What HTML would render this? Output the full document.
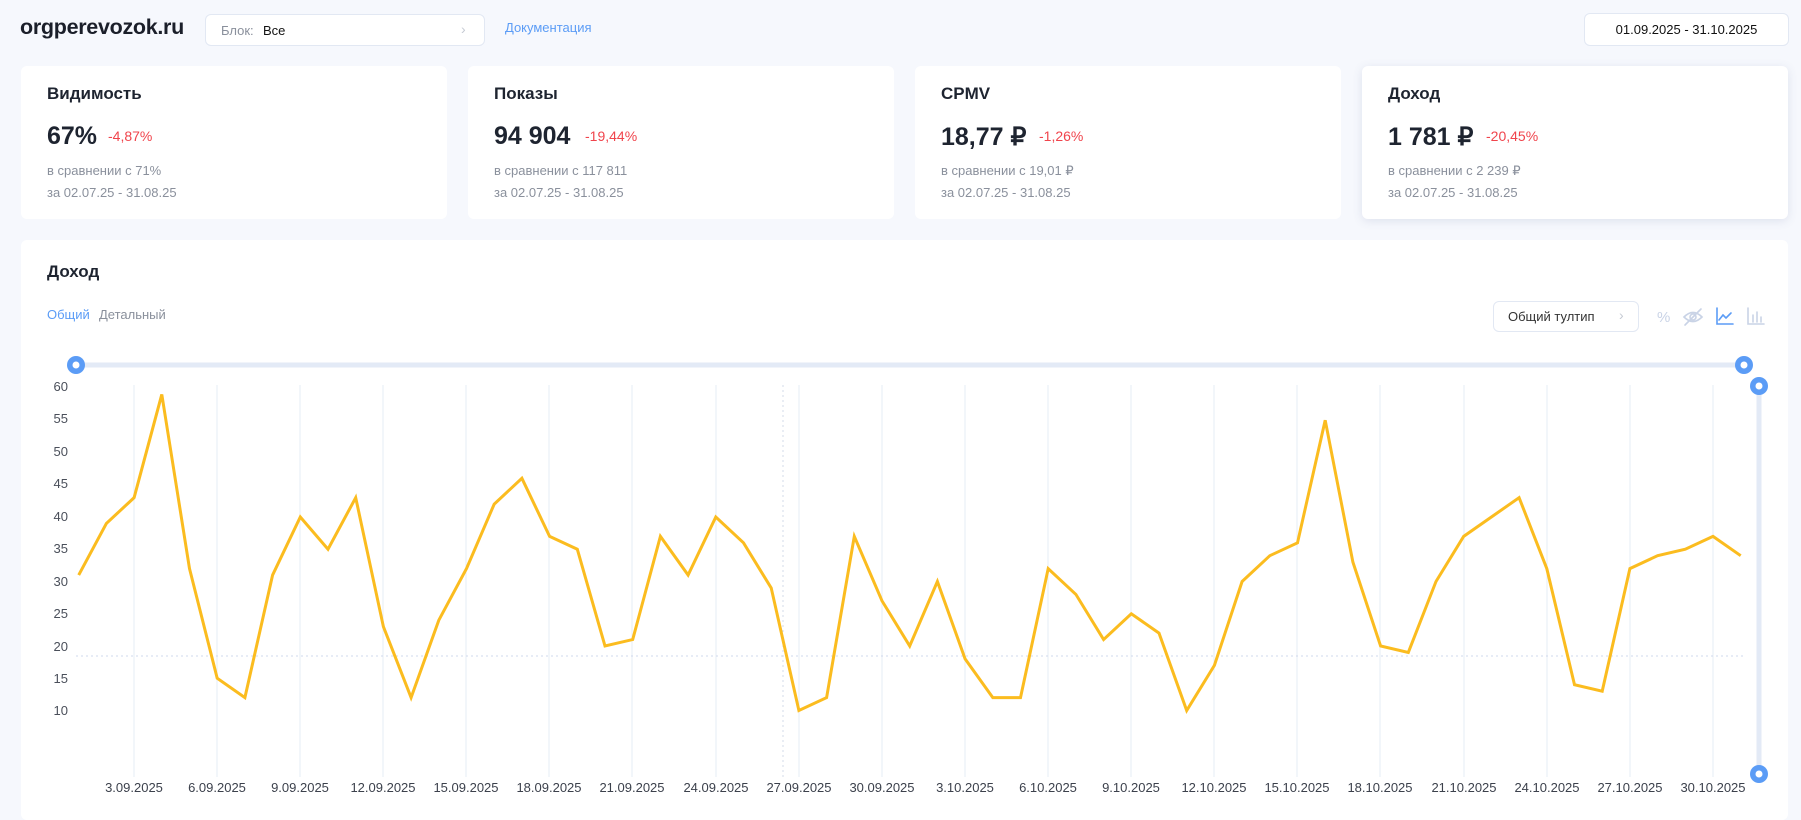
<!DOCTYPE html>
<html><head><meta charset="utf-8"><style>
*{margin:0;padding:0;box-sizing:border-box}
body{width:1801px;height:805px;background:#f6f8fd;font-family:"Liberation Sans",sans-serif;position:relative;overflow:hidden;color:#1e2430}
.abs{position:absolute}
.box{position:absolute;background:#fff;border:1px solid #e2e8f3;border-radius:6px}
.card{position:absolute;background:#fff;border-radius:6px;top:66px;width:426px;height:153px}
.ct{position:absolute;left:26px;top:18px;font-size:17px;font-weight:bold}
.cv{position:absolute;left:26px;top:56px;font-size:25px;font-weight:bold}
.cr{position:absolute;left:87px;top:62px;font-size:14px;color:#f0444c}
.cg{position:absolute;left:26px;font-size:13px;color:#8a909c}
</style></head><body>
<div class="abs" style="left:20px;top:15px;font-size:21.5px;font-weight:bold;color:#1b1f2a;letter-spacing:-0.3px">orgperevozok.ru</div>
<div class="box" style="left:205px;top:14px;width:280px;height:32px"><span class="abs" style="left:15px;top:8px;font-size:13px;color:#8a909c">Блок:</span><span class="abs" style="left:57px;top:8px;font-size:13px;color:#111">Все</span><span class="abs" style="left:255px;top:6px;font-size:14px;color:#c5cad3">›</span></div>
<div class="abs" style="left:505px;top:20px;font-size:13px;color:#5b9cf6">Документация</div>
<div class="box" style="left:1584px;top:13px;width:205px;height:33px"><span class="abs" style="left:0;width:203px;text-align:center;top:8px;font-size:13px;color:#111">01.09.2025 - 31.10.2025</span></div>

<div class="card" style="left:21px"><div class="ct">Видимость</div><div class="cv">67%</div><div class="cr">-4,87%</div><div class="cg" style="top:97px">в сравнении с 71%</div><div class="cg" style="top:119px">за 02.07.25 - 31.08.25</div></div>
<div class="card" style="left:468px"><div class="ct">Показы</div><div class="cv">94 904</div><div class="cr" style="left:117px">-19,44%</div><div class="cg" style="top:97px">в сравнении с 117 811</div><div class="cg" style="top:119px">за 02.07.25 - 31.08.25</div></div>
<div class="card" style="left:915px"><div class="ct">CPMV</div><div class="cv">18,77 ₽</div><div class="cr" style="left:124px">-1,26%</div><div class="cg" style="top:97px">в сравнении с 19,01 ₽</div><div class="cg" style="top:119px">за 02.07.25 - 31.08.25</div></div>
<div class="card" style="left:1362px;box-shadow:0 2px 10px rgba(60,80,130,.13)"><div class="ct">Доход</div><div class="cv">1 781 ₽</div><div class="cr" style="left:124px">-20,45%</div><div class="cg" style="top:97px">в сравнении с 2 239 ₽</div><div class="cg" style="top:119px">за 02.07.25 - 31.08.25</div></div>

<div class="abs" style="left:21px;top:240px;width:1767px;height:580px;background:#fff;border-radius:6px"></div>
<div class="abs" style="left:47px;top:262px;font-size:17px;font-weight:bold">Доход</div>
<div class="abs" style="left:47px;top:307px;font-size:13px;color:#5b9cf6">Общий</div>
<div class="abs" style="left:99px;top:307px;font-size:13px;color:#8a909c">Детальный</div>
<div class="box" style="left:1493px;top:301px;width:146px;height:31px"><span class="abs" style="left:14px;top:7px;font-size:13px;color:#333">Общий тултип</span><span class="abs" style="left:125px;top:5px;font-size:14px;color:#c5cad3">›</span></div>

<svg class="abs" style="left:0;top:0" width="1801" height="805">
<g fill="none" stroke-linecap="round" stroke-width="1.6">
<text x="1657" y="322" font-size="15" fill="#c9d3e6" font-family="Liberation Sans">%</text>
<path d="M1684 317q9-9 18 0q-9 9-18 0z M1685 325l16-16" stroke="#c9d3e6"/><circle cx="1693" cy="317" r="3" stroke="#c9d3e6"/>
<path d="M1717 308v16h16 M1719 320l4-5 3 3 5-5" stroke="#5b9cf6"/>
<path d="M1748 308v16h16 M1753 322v-7 M1757 322v-10 M1761 322v-5" stroke="#c9d3e6"/>
</g>
<line x1="76" y1="365" x2="1744" y2="365" stroke="#e3eaf6" stroke-width="5"/>
<line x1="1759" y1="386" x2="1759" y2="774" stroke="#e3eaf6" stroke-width="5"/>
<g stroke="#e6ecf6" stroke-width="1">
<line x1="134" y1="385" x2="134" y2="777"/><line x1="217" y1="385" x2="217" y2="777"/><line x1="300" y1="385" x2="300" y2="777"/><line x1="383" y1="385" x2="383" y2="777"/><line x1="466" y1="385" x2="466" y2="777"/><line x1="549" y1="385" x2="549" y2="777"/><line x1="632" y1="385" x2="632" y2="777"/><line x1="716" y1="385" x2="716" y2="777"/><line x1="799" y1="385" x2="799" y2="777"/><line x1="882" y1="385" x2="882" y2="777"/><line x1="965" y1="385" x2="965" y2="777"/><line x1="1048" y1="385" x2="1048" y2="777"/><line x1="1131" y1="385" x2="1131" y2="777"/><line x1="1214" y1="385" x2="1214" y2="777"/><line x1="1297" y1="385" x2="1297" y2="777"/><line x1="1380" y1="385" x2="1380" y2="777"/><line x1="1464" y1="385" x2="1464" y2="777"/><line x1="1547" y1="385" x2="1547" y2="777"/><line x1="1630" y1="385" x2="1630" y2="777"/><line x1="1713" y1="385" x2="1713" y2="777"/>
</g>
<line x1="783" y1="385" x2="783" y2="777" stroke="#d3dbea" stroke-dasharray="2,3"/>
<line x1="76" y1="656" x2="1744" y2="656" stroke="#cfd9ec" stroke-dasharray="2,3"/>
<g font-size="13" fill="#4a4f5a" font-family="Liberation Sans" text-anchor="end">
<text x="68" y="391">60</text><text x="68" y="423">55</text><text x="68" y="456">50</text><text x="68" y="488">45</text><text x="68" y="521">40</text><text x="68" y="553">35</text><text x="68" y="586">30</text><text x="68" y="618">25</text><text x="68" y="651">20</text><text x="68" y="683">15</text><text x="68" y="715">10</text>
</g>
<g font-size="13" fill="#3c414c" font-family="Liberation Sans" text-anchor="middle">
<text x="134" y="792">3.09.2025</text><text x="217" y="792">6.09.2025</text><text x="300" y="792">9.09.2025</text><text x="383" y="792">12.09.2025</text><text x="466" y="792">15.09.2025</text><text x="549" y="792">18.09.2025</text><text x="632" y="792">21.09.2025</text><text x="716" y="792">24.09.2025</text><text x="799" y="792">27.09.2025</text><text x="882" y="792">30.09.2025</text><text x="965" y="792">3.10.2025</text><text x="1048" y="792">6.10.2025</text><text x="1131" y="792">9.10.2025</text><text x="1214" y="792">12.10.2025</text><text x="1297" y="792">15.10.2025</text><text x="1380" y="792">18.10.2025</text><text x="1464" y="792">21.10.2025</text><text x="1547" y="792">24.10.2025</text><text x="1630" y="792">27.10.2025</text><text x="1713" y="792">30.10.2025</text>
</g>
<g transform="translate(51,775) scale(27.7,-6.45)">
<polyline fill="none" stroke="#fbbc1f" stroke-width="3" vector-effect="non-scaling-stroke" stroke-linejoin="miter" points="1,31 2,39 3,43 4,59 5,32 6,15 7,12 8,31 9,40 10,35 11,43 12,23 13,12 14,24 15,32 16,42 17,46 18,37 19,35 20,20 21,21 22,37 23,31 24,40 25,36 26,29 27,10 28,12 29,37 30,27 31,20 32,30 33,18 34,12 35,12 36,32 37,28 38,21 39,25 40,22 41,10 42,17 43,30 44,34 45,36 46,55 47,33 48,20 49,19 50,30 51,37 52,40 53,43 54,32 55,14 56,13 57,32 58,34 59,35 60,37 61,34"/>
</g>
<g fill="#5b9cf6"><circle cx="76" cy="365" r="9"/><circle cx="1744" cy="365" r="9"/><circle cx="1759" cy="386" r="9"/><circle cx="1759" cy="774" r="9"/></g>
<g fill="#fff"><circle cx="76" cy="365" r="3.5"/><circle cx="1744" cy="365" r="3.5"/><circle cx="1759" cy="386" r="3.5"/><circle cx="1759" cy="774" r="3.5"/></g>
</svg>
</body></html>
